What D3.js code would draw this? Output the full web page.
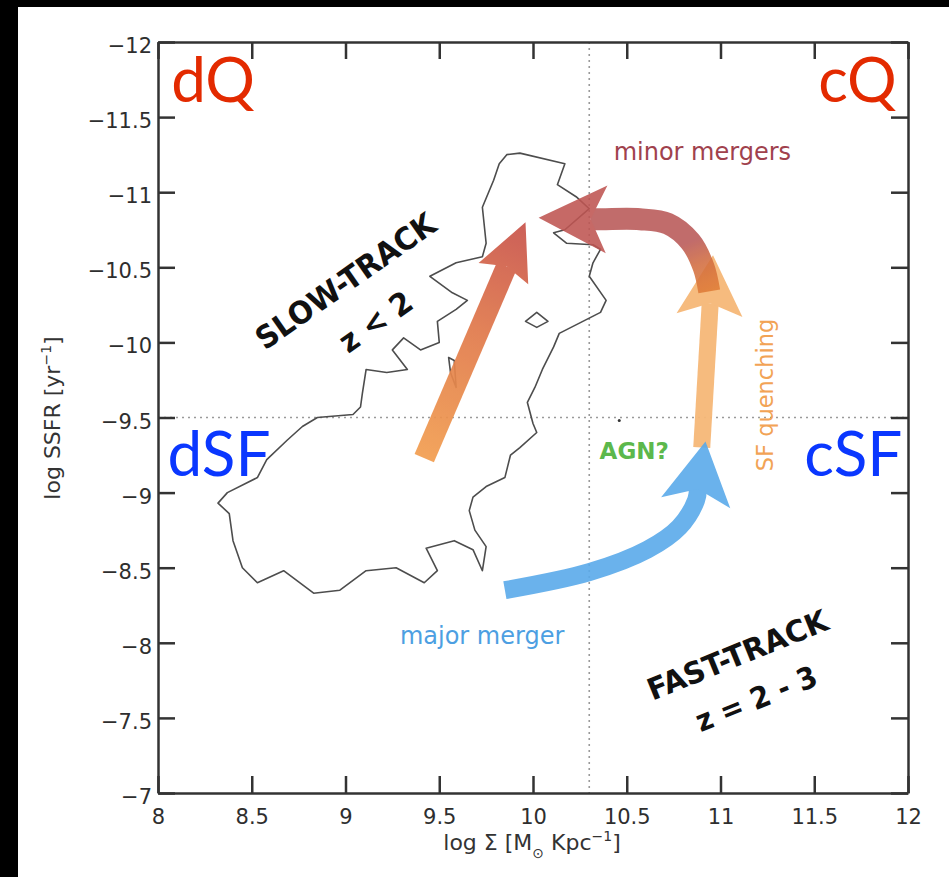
<!DOCTYPE html>
<html>
<head>
<meta charset="utf-8">
<script src="https://cdn.jsdelivr.net/npm/d3@7"></script>
<style>
html, body { margin: 0; padding: 0; background: #000; }
svg { display: block; }
.axis text { font-family: "DejaVu Sans", sans-serif; font-size: 21px; fill: #2e2e2e; }
.axis path, .axis line { stroke: #333; stroke-width: 2.5; }
</style>
</head>
<body>
<script>
// axis ticks
const xTicks = [8, 8.5, 9, 9.5, 10, 10.5, 11, 11.5, 12];
const yTicks = [-12, -11.5, -11, -10.5, -10, -9.5, -9, -8.5, -8, -7.5, -7];

// quadrant dividers
const dividerX = 10.3;
const dividerY = -9.5;

// slow-track galaxy contour (log Sigma, log SSFR)
const contourMain = [
  [9.86,-11.25],[9.93,-11.26],[10.17,-11.19],[10.13,-11.05],[10.23,-10.97],[10.30,-10.89],
  [10.17,-10.75],[10.11,-10.73],[10.18,-10.66],[10.32,-10.65],[10.36,-10.62],[10.32,-10.53],
  [10.30,-10.44],[10.39,-10.28],[10.36,-10.20],[10.25,-10.13],[10.14,-10.06],[10.11,-9.97],
  [10.05,-9.82],[10.01,-9.70],[9.97,-9.60],[10.00,-9.46],[10.02,-9.40],[9.93,-9.30],
  [9.88,-9.25],[9.85,-9.10],[9.75,-9.04],[9.68,-8.97],[9.66,-8.88],[9.69,-8.75],
  [9.75,-8.64],[9.73,-8.48],[9.68,-8.62],[9.58,-8.68],[9.43,-8.63],[9.49,-8.48],
  [9.42,-8.40],[9.27,-8.50],[9.11,-8.48],[8.97,-8.35],[8.83,-8.33],[8.67,-8.48],
  [8.53,-8.40],[8.45,-8.50],[8.40,-8.68],[8.38,-8.86],[8.32,-8.93],[8.37,-9.00],
  [8.53,-9.10],[8.58,-9.22],[8.69,-9.35],[8.77,-9.44],[8.85,-9.50],[9.04,-9.52],
  [9.08,-9.57],[9.09,-9.66],[9.11,-9.82],[9.22,-9.80],[9.33,-9.82],[9.25,-9.95],
  [9.31,-10.03],[9.40,-9.95],[9.50,-10.00],[9.49,-10.14],[9.59,-10.22],[9.65,-10.28],
  [9.57,-10.33],[9.45,-10.44],[9.59,-10.53],[9.73,-10.57],[9.75,-10.66],[9.73,-10.90],
  [9.79,-11.08],[9.82,-11.19]
];
const contourIsland = [[9.96,-10.14],[10.02,-10.20],[10.08,-10.14],[10.02,-10.10]];
const contourSliver = [[9.55,-9.90],[9.58,-9.88],[9.59,-9.70],[9.56,-9.80]];
const centrePoint = [[10.46,-9.48]];

// evolutionary tracks (tail ... tip)
const slowTrack = [[9.42,-9.23],[9.96,-10.80]];
const sfQuenching = [[10.90,-9.30],[10.96,-10.58]];
const minorMergers = [[10.94,-10.34],[10.91,-10.50],[10.84,-10.67],[10.72,-10.79],
                      [10.57,-10.82],[10.36,-10.82],[10.03,-10.83]];
const majorMerger = [[9.85,-8.35],[10.30,-8.47],[10.61,-8.62],[10.78,-8.77],
                     [10.87,-8.95],[10.92,-9.34]];

const width = 949, height = 877;

const svg = d3.select("body").append("svg")
    .attr("width", width)
    .attr("height", height);

svg.append("rect")
    .attr("x", 18).attr("y", 7)
    .attr("width", width - 18).attr("height", height - 7)
    .attr("fill", "#fff");

const x = d3.scaleLinear().domain([8, 12]).range([158, 908]);
const y = d3.scaleLinear().domain([-12, -7]).range([42, 793]);

const defs = svg.append("defs");

// dotted dividers
svg.append("line")
    .attr("x1", x(dividerX)).attr("x2", x(dividerX))
    .attr("y1", y(-12)).attr("y2", y(-7))
    .attr("stroke", "#9a9a9a").attr("stroke-width", 1.6)
    .attr("stroke-dasharray", "2,4");
svg.append("line")
    .attr("x1", x(8)).attr("x2", x(12))
    .attr("y1", y(dividerY)).attr("y2", y(dividerY))
    .attr("stroke", "#9a9a9a").attr("stroke-width", 1.6)
    .attr("stroke-dasharray", "2,4");

// contour
const closed = d3.line().x(d => x(d[0])).y(d => y(d[1])).curve(d3.curveLinearClosed);
[contourMain, contourIsland, contourSliver].forEach(c => {
    svg.append("path")
        .attr("d", closed(c))
        .attr("fill", "none")
        .attr("stroke", "#4d4d4d")
        .attr("stroke-width", 1.6)
        .attr("stroke-linejoin", "round");
});
svg.selectAll("circle.dot").data(centrePoint).enter().append("circle")
    .attr("class", "dot")
    .attr("cx", d => x(d[0])).attr("cy", d => y(d[1])).attr("r", 1.5)
    .attr("fill", "#333");

function gradient(id, p0, p1, stops) {
    const g = defs.append("linearGradient")
        .attr("id", id)
        .attr("gradientUnits", "userSpaceOnUse")
        .attr("x1", x(p0[0])).attr("y1", y(p0[1]))
        .attr("x2", x(p1[0])).attr("y2", y(p1[1]));
    stops.forEach(s => g.append("stop").attr("offset", s[0]).attr("stop-color", s[1]));
    return "url(#" + id + ")";
}

function drawArrow(pts, opt) {
    const p = pts.map(d => [x(d[0]), y(d[1])]);
    const tip = p[p.length - 1], prev = p[p.length - 2];
    const len = Math.hypot(tip[0] - prev[0], tip[1] - prev[1]);
    const u = [(tip[0] - prev[0]) / len, (tip[1] - prev[1]) / len];
    const n = [-u[1], u[0]];
    const base = [tip[0] - opt.head * u[0], tip[1] - opt.head * u[1]];
    const notch = [tip[0] - (opt.head - opt.notch) * u[0], tip[1] - (opt.head - opt.notch) * u[1]];
    const g = svg.append("g").attr("opacity", opt.opacity);
    g.append("path")
        .attr("d", d3.line().curve(d3.curveCatmullRom)(p.slice(0, -1).concat([notch])))
        .attr("fill", "none")
        .attr("stroke", opt.color)
        .attr("stroke-width", opt.width);
    const head = [tip,
        [base[0] + opt.half * n[0], base[1] + opt.half * n[1]],
        notch,
        [base[0] - opt.half * n[0], base[1] - opt.half * n[1]]];
    g.append("path")
        .attr("d", "M" + head.join("L") + "Z")
        .attr("fill", opt.headColor || opt.color);
}

drawArrow(sfQuenching, {color: "#f6b878", width: 17, head: 60, half: 33, notch: 12, opacity: 0.95});

const minorFill = gradient("minorGrad", minorMergers[0], minorMergers[2],
    [[0, "#e07d38"], [0.55, "#d26d40"], [1, "#b95857"]]);
drawArrow(minorMergers, {color: minorFill, headColor: "#bf5552", width: 22, head: 68, half: 34, notch: 16, opacity: 0.88});

const slowFill = gradient("slowGrad", slowTrack[0], slowTrack[1],
    [[0, "#f29e50"], [0.55, "#e0784a"], [1, "#c8524a"]]);
drawArrow(slowTrack, {color: slowFill, width: 21, head: 56, half: 27, notch: 8, opacity: 0.92});

drawArrow(majorMerger, {color: "#5aaaea", width: 18, head: 62, half: 35, notch: 14, opacity: 0.9});

// annotations
function label(t, px, py, o) {
    const el = svg.append("text")
        .attr("x", px).attr("y", py)
        .attr("font-family", o.family || "DejaVu Sans, sans-serif")
        .attr("font-size", o.size)
        .attr("font-weight", o.weight || "normal")
        .attr("fill", o.fill)
        .attr("text-anchor", o.anchor || "start")
        .attr("dy", o.dy || 0)
        .attr("transform", o.rotate ? `rotate(${o.rotate},${px},${py})` : null)
        .text(t);
    if (o.fit) el.attr("textLength", o.fit).attr("lengthAdjust", "spacingAndGlyphs");
    return el;
}

const cornerFont = "Lato, 'Open Sans', sans-serif";
label("dQ", x(8.07), y(-11.6), {size: 62, fill: "#e32a00", family: cornerFont});
label("cQ", x(11.94), y(-11.6), {size: 62, fill: "#e32a00", family: cornerFont, anchor: "end"});
label("dSF", x(8.05), y(-9.11), {size: 62, fill: "#0a37ff", family: cornerFont});
label("cSF", x(11.97), y(-9.11), {size: 62, fill: "#0a37ff", family: cornerFont, anchor: "end"});

const trackFont = "'DejaVu Sans', sans-serif";
label("SLOW-TRACK", x(9.0), y(-10.41), {size: 31, weight: "bold", fill: "#111", anchor: "middle", dy: "0.36em", rotate: -35, fit: 212, family: trackFont});
label("z < 2", x(9.16), y(-10.14), {size: 31, weight: "bold", fill: "#111", anchor: "middle", dy: "0.36em", rotate: -35, fit: 82, family: trackFont});
label("FAST-TRACK", x(11.09), y(-7.92), {size: 30, weight: "bold", fill: "#111", anchor: "middle", dy: "0.36em", rotate: -22, fit: 192, family: trackFont});
label("z = 2 - 3", x(11.19), y(-7.63), {size: 30, weight: "bold", fill: "#111", anchor: "middle", dy: "0.36em", rotate: -22, fit: 128, family: trackFont});

label("minor mergers", x(10.43), y(-11.27), {size: 24, fill: "#a0414d", dy: "0.35em"});
label("major merger", x(9.29), y(-8.05), {size: 24, fill: "#4d9fe2", dy: "0.35em"});
label("AGN?", x(10.54), y(-9.28), {size: 23, weight: "bold", fill: "#5cb84c", anchor: "middle", dy: "0.36em"});
label("SF quenching", x(11.24), y(-9.65), {size: 22.5, fill: "#f2a355", anchor: "middle", dy: "0.35em", rotate: -90});

// axes
const fmt = d3.format("");
svg.append("g").attr("class", "axis")
    .attr("transform", `translate(0,${y(-7)})`)
    .call(d3.axisBottom(x).tickValues(xTicks).tickSize(-17).tickSizeOuter(0).tickPadding(16).tickFormat(fmt));
svg.append("g").attr("class", "axis")
    .attr("transform", `translate(${x(8)},0)`)
    .call(d3.axisLeft(y).tickValues(yTicks).tickSize(-17).tickSizeOuter(0).tickPadding(6).tickFormat(fmt))
    .selectAll("text").attr("dy", "0.5em");
svg.append("g").attr("class", "axis")
    .attr("transform", `translate(0,${y(-12)})`)
    .call(d3.axisTop(x).tickValues(xTicks).tickSize(-17).tickSizeOuter(0).tickFormat(""));
svg.append("g").attr("class", "axis")
    .attr("transform", `translate(${x(12)},0)`)
    .call(d3.axisRight(y).tickValues(yTicks).tickSize(-17).tickSizeOuter(0).tickFormat(""));

// axis titles
const yTitle = svg.append("text")
    .attr("transform", "translate(60,418) rotate(-90)")
    .attr("text-anchor", "middle")
    .attr("font-family", "DejaVu Sans, sans-serif")
    .attr("font-size", 22)
    .attr("fill", "#333");
yTitle.append("tspan").text("log SSFR [yr");
yTitle.append("tspan").attr("dy", -9).attr("font-size", 14).text("\u22121");
yTitle.append("tspan").attr("dy", 9).text("]");

const xTitle = svg.append("text")
    .attr("x", 532).attr("y", 850)
    .attr("text-anchor", "middle")
    .attr("font-family", "DejaVu Sans, sans-serif")
    .attr("font-size", 22)
    .attr("fill", "#333");
xTitle.append("tspan").text("log \u03A3 [M");
xTitle.append("tspan").attr("dy", 8).attr("font-size", 14).text("\u2299");
xTitle.append("tspan").attr("dy", -8).text(" Kpc");
xTitle.append("tspan").attr("dy", -9).attr("font-size", 14).text("\u22121");
xTitle.append("tspan").attr("dy", 9).text("]");
</script>
</body>
</html>
